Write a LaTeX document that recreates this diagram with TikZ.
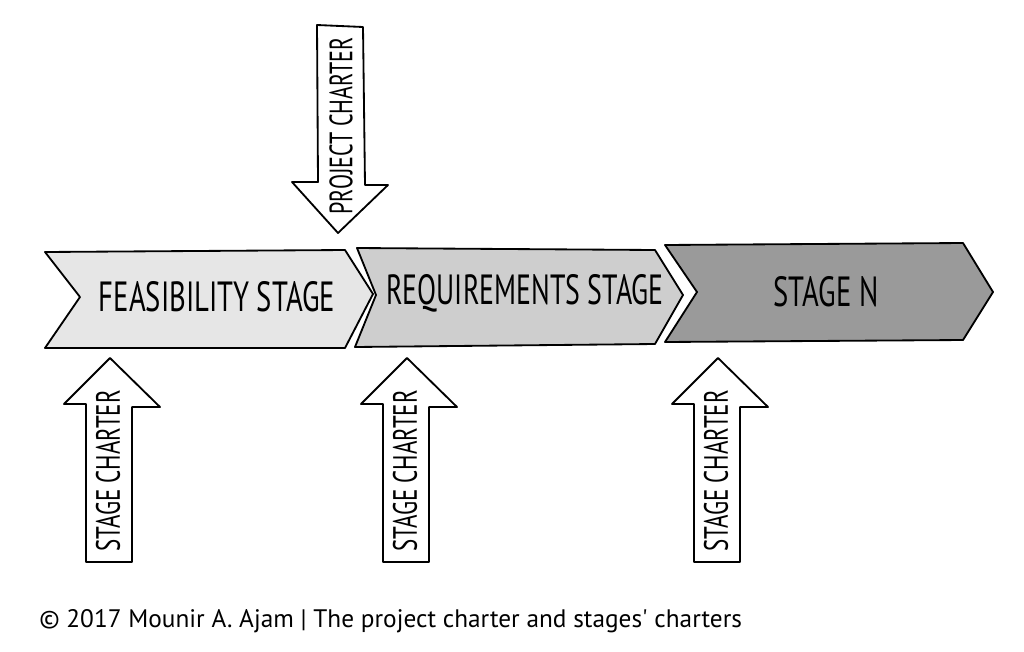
\documentclass[tikz,border=0pt]{standalone}
\usepackage{fontspec}
\setmainfont{PT Sans}
\usetikzlibrary{positioning}
\definecolor{feasgray}{RGB}{230,230,230}
\definecolor{reqgray}{RGB}{206,206,206}
\definecolor{stagegray}{RGB}{154,154,154}
\newcommand\handtext[1]{\scalebox{0.68}[1]{#1}}

\tikzset{
  outline/.style={draw=black, line width=1.3pt, line join=round},
  stagelabel/.style={font=\fontsize{30}{30}\selectfont, inner sep=0pt},
  charterlabel/.style={font=\fontsize{24}{24}\selectfont, rotate=90, inner sep=0pt},
}

\begin{document}
\begin{tikzpicture}[x=0.25mm, y=-0.25mm]
    \useasboundingbox (0,0) rectangle (1024,651);

    % Stages
    \draw[outline, fill=feasgray] (45,252) -- (345,250) -- (373,294) -- (345,348) -- (45,348) -- (80,297) -- cycle;
    \draw[outline, fill=reqgray] (357,248) -- (655,250) -- (683,295) -- (655,344) -- (355,347) -- (376,295) -- cycle;
    \draw[outline, fill=stagegray] (665,245) -- (963,243) -- (993,292) -- (963,340) -- (665,342) -- (697,292) -- cycle;
    \node[stagelabel] (feas) at (217,297) {\handtext{FEASIBILITY STAGE}};
    \node[stagelabel] (req) at (525,293) {\scalebox{0.66}[1]{REQUIREMENTS STAGE}};
    \node[stagelabel] (stagen) at (826,292) {\handtext{STAGE N}};

    % Project charter
    \draw[outline, fill=white] (317,25) -- (363,27) -- (365,185) -- (388,185) -- (338,233) -- (292,182) -- (318,182) -- cycle;
    \node[charterlabel, font=\fontsize{23}{23}\selectfont] (proj) at (341,126) {\handtext{PROJECT CHARTER}};

    % Stage charters
    \foreach \cx/\name in {110/sca, 407/scb, 718/scc} {
        \draw[outline, fill=white] (\cx-24,562) -- (\cx-24,404) -- (\cx-46,404) -- (\cx,358) -- (\cx+50,407) -- (\cx+22,407) -- (\cx+22,562) -- cycle;
        \node[charterlabel] (\name) at (\cx-2,471) {\handtext{STAGE CHARTER}};
    }

    \node[anchor=west, inner sep=0pt, font=\fontsize{18}{18}\selectfont] (caption) at (39,621) {© 2017 Mounir A. Ajam | The project charter and stages\textquotesingle\ charters};
\end{tikzpicture}
\end{document}
